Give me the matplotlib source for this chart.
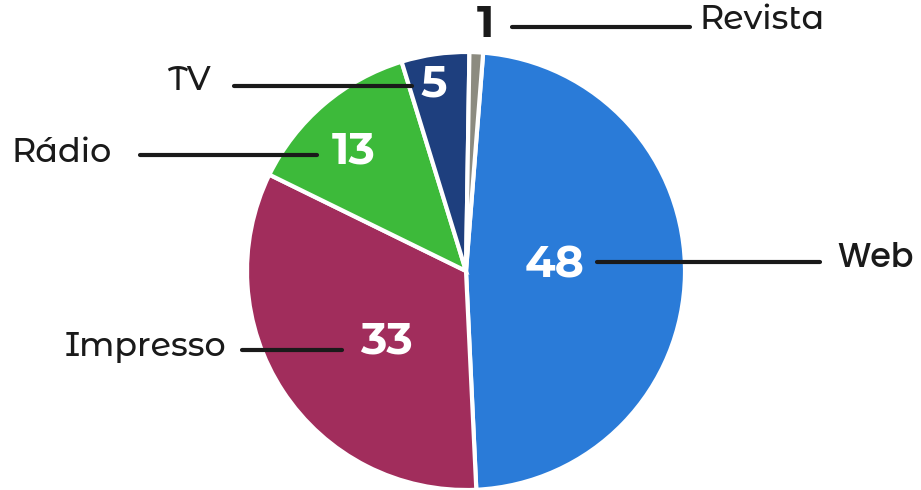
import matplotlib
matplotlib.use("Agg")
import matplotlib.pyplot as plt

categories = ["Web", "Impresso", "Rádio", "TV", "Revista"]
values = [48, 33, 13, 5, 1]
colors = ["#2a7bd8", "#a12d5c", "#3dba3a", "#1e3f7e", "#8c8b80"]

W, H = 921, 490
fig = plt.figure(figsize=(W / 100, H / 100), dpi=100)
ax = fig.add_axes([0, 0, 1, 1])

cx, cy, r = 466, H - 271, 219
ax.pie(values, colors=colors, startangle=85.5, counterclock=False,
       center=(cx, cy), radius=r,
       wedgeprops=dict(edgecolor="white", linewidth=3))
ax.set_xlim(0, W)
ax.set_ylim(0, H)
ax.set_aspect("equal")
ax.axis("off")

fam = ["Montserrat Alternates", "DejaVu Sans"]
# value labels: (x, y, color)
num_pos = [(555, 265, "white"), (386, 341, "white"), (354, 151, "white"),
           (434, 85, "white"), (485, 25, "#1a1a1a")]
for v, (x, y, c) in zip(values, num_pos):
    ax.text(x, H - y, str(v), color=c, fontsize=32, fontweight=700,
            ha="center", va="center", family=fam)

# category labels and leader lines
lab_pos = [(837, 259, "left"), (226, 347, "right"), (112, 153, "right"),
           (211, 81, "right"), (699, 20, "left")]
lines = [((597, 262), (820, 262)), ((242, 350), (342, 350)),
         ((140, 155), (317, 155)), ((234, 86), (412, 86)),
         ((512, 27), (690, 27))]
for name, (x, y, ha), ((x0, y0), (x1, y1)) in zip(categories, lab_pos, lines):
    f = ["Poppins", "DejaVu Sans"] if name == "Web" else fam
    ax.text(x, H - y, name, color="#1a1a1a", fontsize=24, fontweight=500,
            ha=ha, va="center", family=f)
    ax.plot([x0, x1], [H - y0, H - y1], color="#1a1a1a", lw=3,
            solid_capstyle="round")

fig.savefig("out.png", dpi=100)
